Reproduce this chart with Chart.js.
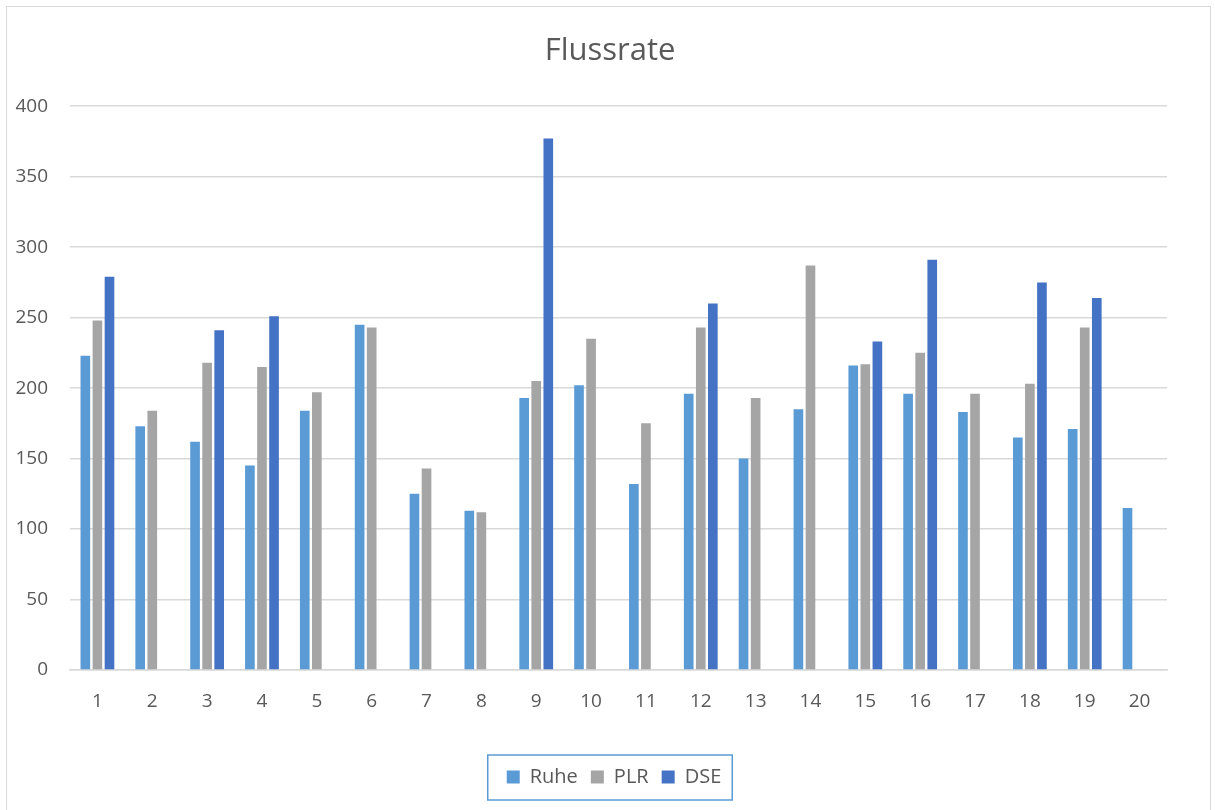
<!DOCTYPE html>
<html>
<head>
<meta charset="utf-8">
<script src="https://cdn.jsdelivr.net/npm/chart.js@4"></script>
<style>
  html, body { margin: 0; padding: 0; background: #fff; }
  #frame { position: absolute; left: 6px; top: 6px; width: 1203px; height: 830px; border: 1.5px solid #d9d9d9; }
  #wrap { position: absolute; left: 0; top: 0; width: 1215px; height: 810px; }
</style>
</head>
<body>
<div id="frame"></div>
<div id="wrap"><canvas id="flussrate"></canvas></div>
<script>
// categories and the three series
const labels = ['1','2','3','4','5','6','7','8','9','10','11','12','13','14','15','16','17','18','19','20']
const ruhe = [223, 173, 162, 145, 184, 245, 125, 113, 193, 202, 132, 196, 150, 185, 216, 196, 183, 165, 171, 115]
const plr  = [248, 184, 218, 215, 197, 243, 143, 112, 205, 235, 175, 243, 193, 287, 217, 225, 196, 203, 243, null]
const dse  = [279, null, 241, 251, null, null, null, null, 377, null, null, 260, null, null, 233, 291, null, 275, 264, null]
const yTicks = [0, 50, 100, 150, 200, 250, 300, 350, 400]

const textColor = '#595959'
const font = "'Open Sans', 'Liberation Sans', sans-serif"

// excel centres title and legend on the whole frame, not on the plot
const centerBlocks = {
  id: 'centerBlocks',
  afterLayout(chart) {
    if (chart.titleBlock) {
      chart.titleBlock.left = 0
      chart.titleBlock.right = 1220
    }
    if (chart.legend) {
      chart.legend.left = 0
      chart.legend.right = 1228
    }
  }
}

// draws the thin blue frame round the legend, like in excel
const legendFrame = {
  id: 'legendFrame',
  afterDraw(chart) {
    const lg = chart.legend
    if (!lg || !lg.legendHitBoxes.length) return
    const boxes = lg.legendHitBoxes
    const first = boxes[0]
    const last = boxes[boxes.length - 1]
    const ctx = chart.ctx
    ctx.save()
    ctx.strokeStyle = '#5b9bd5'
    ctx.lineWidth = 1.5
    const x1 = first.left - 19
    const x2 = last.left + last.width + 11
    const y1 = first.top - 12
    const y2 = first.top + first.height + 13
    ctx.strokeRect(x1, y1, x2 - x1, y2 - y1)
    ctx.restore()
  }
}

const config = {
  type: 'bar',
  data: {
    labels: labels,
    datasets: [
      { label: 'Ruhe', data: ruhe, backgroundColor: '#5b9bd5' },
      { label: 'PLR', data: plr, backgroundColor: '#a5a5a5' },
      { label: 'DSE', data: dse, backgroundColor: '#4472c4' }
    ]
  },
  options: {
    responsive: false,
    animation: false,
    layout: { padding: { left: 6, right: 48, top: 23, bottom: 13 } },
    datasets: { bar: { categoryPercentage: 0.66, barPercentage: 0.8 } },
    plugins: {
      title: {
        display: true,
        text: 'Flussrate',
        color: textColor,
        font: { family: font, size: 31, weight: 'normal' },
        padding: { top: 10, bottom: 36 }
      },
      legend: {
        position: 'bottom',
        labels: {
          color: textColor,
          font: { family: font, size: 20 },
          boxWidth: 13,
          boxHeight: 13,
          padding: 13
        }
      },
      tooltip: { enabled: false }
    },
    scales: {
      x: {
        grid: { display: false },
        border: { color: '#d9d9d9', width: 1.5 },
        ticks: { color: textColor, font: { family: font, size: 19 }, padding: 12 },
        afterFit(scale) { scale.height = 84 }
      },
      y: {
        min: 0,
        max: 400,
        afterBuildTicks(scale) { scale.ticks = yTicks.map(v => ({ value: v })) },
        grid: { color: '#d9d9d9', lineWidth: 1.5, drawTicks: false },
        border: { display: false },
        ticks: { color: textColor, font: { family: font, size: 19 }, padding: 22 },
        afterFit(scale) { scale.width = 64 }
      }
    }
  },
  plugins: [centerBlocks, legendFrame]
}

const canvas = document.getElementById('flussrate')
canvas.width = 1215
canvas.height = 810
const myChart = new Chart(canvas, config)
</script>
</body>
</html>
